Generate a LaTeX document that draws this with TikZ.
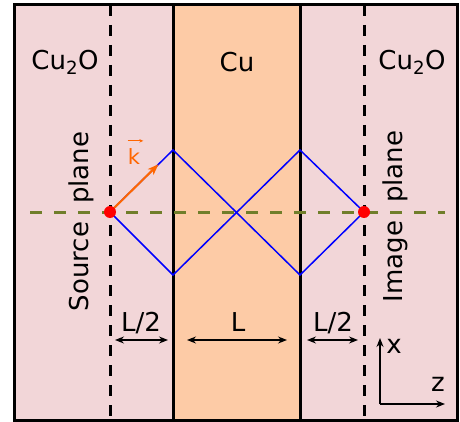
\documentclass[tikz,border=0pt]{standalone}
\usepackage{fontspec}
\setmainfont{DejaVu Sans}
\usetikzlibrary{arrows.meta,calc}
\definecolor{oxide}{RGB}{242,214,216}
\definecolor{copper}{RGB}{253,203,166}
\definecolor{olive}{RGB}{112,126,42}
\definecolor{korange}{RGB}{255,102,0}
\begin{document}
\begin{tikzpicture}[x=1pt,y=-1pt,
  lbl/.style={font=\fontsize{26}{30}\selectfont, inner sep=0pt},
  plane/.style={black, line width=3pt, dash pattern=on 11pt off 9pt},
  wall/.style={black, line width=3pt},
  ray/.style={blue, line width=1.5pt},
  dim/.style={black, line width=1.3pt, {Stealth[length=9pt,width=7pt,inset=3pt]}-{Stealth[length=9pt,width=7pt,inset=3pt]}},
  axis/.style={black, line width=1.3pt, -{Stealth[length=9pt,width=7pt,inset=3pt]}},
  dot/.style={circle, fill=red, inner sep=0pt, minimum size=12pt}]
\useasboundingbox (0,0) rectangle (460,422);
% regions
\fill[oxide] (14,5) rectangle (457,420);
\fill[copper] (173,5) rectangle (300,420);
% coordinates
\coordinate (S) at (110,212);
\coordinate (I) at (364,212);
\coordinate (T1) at (173,150);
\coordinate (B1) at (173,275);
\coordinate (T2) at (300,150);
\coordinate (B2) at (300,275);
\coordinate (pt1) at (110,5);
\coordinate (pb1) at (110,420);
\coordinate (pt2) at (364,5);
\coordinate (pb2) at (364,420);
\coordinate (wt1) at (173,5);
\coordinate (wb1) at (173,420);
\coordinate (wt2) at (300,5);
\coordinate (wb2) at (300,420);
\coordinate (axL) at (30,212);
\coordinate (axR) at (445,212);
% walls and planes
\draw[plane] (pt1) -- (pb1);
\draw[plane] (pt2) -- (pb2);
\draw[wall] (wt1) -- (wb1);
\draw[wall] (wt2) -- (wb2);
% optical axis
\draw[olive, line width=3pt, dash pattern=on 12pt off 12pt] (axL) -- (axR);
% rays
\draw[ray] (S) -- (T1) -- (B2) -- (I);
\draw[ray] (S) -- (B1) -- (T2) -- (I);
% wave vector
\coordinate (ktip) at ($(S)!0.77!(T1)$);
\draw[korange, line width=2pt, -{Stealth[length=11pt,width=8pt,inset=3pt]}] (S) -- (ktip);
\node[text=korange, font=\fontsize{21}{25}\selectfont, inner sep=0pt, anchor=base] (k) at (134,165) {k};
\coordinate (kva) at ($(k.north west)+(0,-8)$);
\coordinate (kvb) at ($(k.north east)+(3,-8)$);
\draw[korange, line width=0.8pt, -{Stealth[length=4pt,width=3.5pt]}] (kva) -- (kvb);
% source / image points
\node[dot] (src) at (S) {};
\node[dot] (img) at (I) {};
% labels
\node[lbl] (cuoL) at (65,62) {Cu\textsubscript{2}O};
\node[lbl] (cu) at (237,62) {Cu};
\node[lbl] (cuoR) at (412,62) {Cu\textsubscript{2}O};
\node[lbl, rotate=90] (srcplane) at (81,221.5) {Source\hspace{0.7em}plane};
\node[lbl, rotate=90] (imgplane) at (395,216.5) {Image\hspace{0.7em}plane};
% dimensions
\coordinate (d1a) at (115,340);
\coordinate (d1b) at (168,340);
\coordinate (d2a) at (187,340);
\coordinate (d2b) at (287,340);
\coordinate (d3a) at (307,340);
\coordinate (d3b) at (358,340);
\draw[dim] (d1a) -- (d1b);
\draw[dim] (d2a) -- (d2b);
\draw[dim] (d3a) -- (d3b);
\node[lbl] (h1) at (141,323) {L/2};
\node[lbl] (l) at (238,322) {L};
\node[lbl] (h2) at (333,323) {L/2};
% axes
\coordinate (O) at (380,404);
\coordinate (Xe) at (380,338);
\coordinate (Ze) at (445,404);
\draw[axis] (O) -- (Xe);
\draw[axis] (O) -- (Ze);
\node[lbl] (xl) at (394,346) {x};
\node[lbl] (zl) at (438,384) {z};
% frame
\draw[black, line width=3pt] (14,5) rectangle (457,420);
\end{tikzpicture}
\end{document}
